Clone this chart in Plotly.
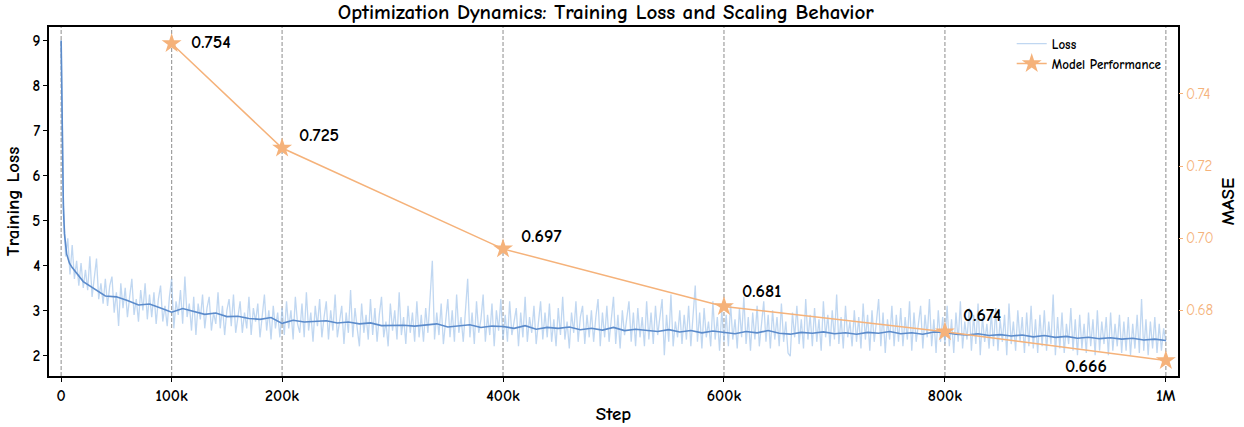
import plotly.graph_objects as go

# ---------------- data ----------------
raw_steps_early = [0, 1000]
raw_loss_early = [9.0, 7.0]
raw_loss = [
    5.50, 4.20, 4.60, 3.80, 4.45, 3.70, 4.10, 3.55, 4.05, 3.50, 3.90, 3.45, 4.20, 3.30, 3.75, 4.15, 3.25, 3.60, 3.15, 3.70,
    3.10, 3.55, 3.75, 2.95, 3.40, 2.65, 3.60, 3.05, 3.50, 2.85, 3.30, 3.70, 2.90, 3.25, 2.75, 3.45, 3.00, 3.60, 2.80, 3.35,
    2.85, 3.40, 2.70, 3.25, 3.55, 2.75, 3.10, 2.65, 3.30, 3.70, 2.60, 3.20, 2.90, 3.45, 2.70, 3.75, 2.85, 3.15, 2.55, 3.30,
    2.45, 3.15, 2.80, 3.35, 2.60, 3.05, 3.30, 2.55, 2.95, 2.70, 3.40, 2.60, 3.10, 2.45, 3.00, 3.25, 2.65, 3.35, 2.50, 2.90,
    3.20, 2.50, 2.95, 2.60, 3.30, 2.45, 3.05, 2.75, 3.15, 2.40, 2.90, 3.35, 2.55, 3.00, 2.35, 3.10, 2.60, 2.95, 2.40, 3.05,
    2.45, 3.20, 2.60, 3.00, 2.35, 3.30, 2.70, 2.50, 3.15, 2.40, 3.40, 2.55, 2.95, 2.30, 3.10, 2.65, 3.25, 2.40, 2.85, 3.20,
    2.35, 3.00, 2.55, 3.35, 2.40, 2.80, 3.10, 2.25, 2.95, 2.50, 3.45, 2.40, 3.05, 2.60, 2.20, 3.15, 2.50, 2.90, 2.35, 3.25,
    2.45, 3.05, 2.30, 2.90, 3.30, 2.40, 2.75, 2.20, 3.15, 2.55, 3.00, 2.35, 3.40, 2.45, 2.85, 2.25, 3.10, 2.50, 2.95, 2.30,
    3.20, 2.40, 2.90, 2.30, 3.05, 2.50, 3.30, 4.10, 2.35, 2.95, 2.45, 3.15, 2.25, 2.85, 3.25, 2.40, 3.00, 2.30, 3.35, 2.50,
    2.85, 2.30, 3.10, 3.70, 2.40, 2.95, 2.25, 3.20, 2.50, 2.80, 3.35, 2.30, 2.90, 2.45, 3.15, 2.20, 3.00, 2.55, 3.25, 2.35,
    2.90, 2.30, 3.20, 2.45, 2.75, 3.05, 2.20, 2.95, 2.40, 3.30, 2.30, 2.85, 2.50, 3.10, 2.25, 2.80, 3.20, 2.35, 2.95, 2.40,
    3.15, 2.30, 2.80, 2.20, 3.05, 2.45, 3.30, 2.35, 2.75, 2.15, 2.95, 2.50, 3.20, 2.30, 2.85, 3.10, 2.25, 2.90, 2.40, 3.00,
    2.30, 2.85, 3.25, 2.20, 2.95, 2.40, 3.10, 2.30, 2.75, 3.30, 2.25, 2.90, 2.15, 3.00, 2.45, 2.80, 3.20, 2.30, 2.95, 2.20,
    3.05, 2.40, 2.85, 2.20, 3.20, 2.35, 2.95, 2.25, 3.10, 2.45, 2.80, 3.25, 2.00, 2.90, 2.30, 3.35, 2.20, 2.75, 2.40, 3.00,
    2.25, 2.90, 2.35, 3.10, 2.20, 2.80, 3.55, 2.30, 2.95, 2.15, 3.05, 2.40, 2.75, 2.20, 3.20, 2.35, 2.85, 2.10, 3.00, 2.30,
    2.90, 2.20, 3.15, 2.35, 2.80, 2.15, 3.05, 2.40, 3.30, 2.25, 2.85, 2.10, 2.95, 2.35, 3.10, 2.20, 2.75, 3.20, 2.30, 2.90,
    2.15, 3.00, 2.35, 2.85, 2.20, 3.15, 2.30, 2.75, 2.05, 1.98, 2.95, 2.40, 3.10, 2.25, 2.80, 2.15, 3.25, 2.35, 2.90, 2.20,
    3.05, 2.30, 2.80, 2.10, 3.20, 2.40, 2.90, 2.20, 3.00, 2.35, 3.35, 2.25, 2.85, 2.15, 3.10, 2.40, 2.75, 2.20, 3.00, 2.30,
    2.85, 2.15, 3.15, 2.35, 2.90, 2.10, 3.00, 2.30, 2.75, 3.25, 2.20, 2.95, 2.05, 2.80, 2.35, 3.10, 2.20, 2.90, 2.30, 3.05,
    2.20, 2.85, 2.35, 3.20, 2.10, 2.95, 2.30, 2.75, 3.10, 2.15, 2.90, 2.40, 3.25, 2.20, 2.80, 2.05, 3.00, 2.30, 2.85, 2.25,
    3.10, 2.20, 2.80, 2.05, 2.95, 2.30, 3.20, 2.15, 2.75, 2.35, 3.05, 2.10, 2.90, 2.25, 3.15, 2.00, 2.85, 2.30, 2.70, 2.15,
    2.95, 2.20, 3.05, 2.10, 2.80, 2.30, 2.90, 2.00, 3.15, 2.25, 2.75, 2.10, 3.00, 2.30, 2.85, 2.05, 2.95, 2.20, 3.10, 2.15,
    2.80, 2.05, 2.90, 2.20, 3.00, 2.10, 2.75, 2.25, 3.35, 2.00, 2.85, 2.15, 2.95, 2.05, 2.70, 2.25, 3.05, 2.10, 2.80, 2.00,
    2.90, 2.15, 2.70, 2.05, 2.95, 2.20, 2.80, 2.00, 3.00, 2.10, 2.75, 2.25, 2.85, 2.00, 2.95, 2.10, 2.70, 2.20, 2.90, 2.05,
    2.75, 2.10, 2.85, 2.00, 2.70, 2.15, 2.90, 2.05, 3.25, 2.10, 2.80, 2.00, 2.75, 2.15, 2.85, 2.05, 2.70, 2.10, 2.60, 2.30,
]
raw_steps = raw_steps_early + [2000 * (i + 1) for i in range(len(raw_loss))]
raw_all = raw_loss_early + raw_loss

smooth_steps_early = [0, 1000, 2000, 3000, 5000, 7500]
smooth_loss_early = [9.0, 6.8, 5.3, 4.7, 4.25, 4.05]
smooth_loss = [
    3.95, 3.64, 3.47, 3.32, 3.30, 3.22, 3.12, 3.14, 3.05, 2.96,
    3.04, 2.98, 2.91, 2.94, 2.86, 2.87, 2.82, 2.80, 2.84, 2.71,
    2.78, 2.74, 2.76, 2.77, 2.72, 2.74, 2.70, 2.72, 2.66, 2.66,
    2.67, 2.65, 2.68, 2.70, 2.63, 2.66, 2.68, 2.62, 2.65, 2.64,
    2.60, 2.66, 2.58, 2.62, 2.60, 2.63, 2.57, 2.60, 2.56, 2.62,
    2.55, 2.58, 2.56, 2.53, 2.57, 2.52, 2.55, 2.50, 2.54, 2.51,
    2.48, 2.53, 2.50, 2.55, 2.49, 2.47, 2.51, 2.49, 2.52, 2.48,
    2.50, 2.47, 2.51, 2.49, 2.53, 2.48, 2.50, 2.47, 2.52, 2.51,
    2.47, 2.45, 2.48, 2.44, 2.46, 2.43, 2.45, 2.41, 2.44, 2.40,
    2.42, 2.38, 2.40, 2.37, 2.39, 2.36, 2.38, 2.34, 2.36, 2.33,
]
smooth_steps = smooth_steps_early + [10000 * (i + 1) for i in range(len(smooth_loss))]
smooth_all = smooth_loss_early + smooth_loss

perf_steps = [100000, 200000, 400000, 600000, 800000, 1000000]
perf_mase = [0.754, 0.725, 0.697, 0.681, 0.674, 0.666]
perf_labels = ["0.754", "0.725", "0.697", "0.681", "0.674", "0.666"]
label_shift_x = [17, 15, 16, 16, 16, -57]
label_shift_y = [1, 13, 12, 15, 16, -6]

xtick_vals = [0, 100000, 200000, 400000, 600000, 800000, 1000000]
xtick_text = ["0", "100k", "200k", "400k", "600k", "800k", "1M"]
ytick_vals = [2, 3, 4, 5, 6, 7, 8, 9]
y2tick_vals = [0.68, 0.70, 0.72, 0.74]

# ---------------- styles ----------------
FONT = "Comic Sans MS, Comic Neue, Lato, DejaVu Sans, sans-serif"
ORANGE = "#F5B27A"
BLUE = "#5B8BCB"
LIGHT = "rgba(150,188,232,0.6)"

fig = go.Figure()

fig.add_trace(go.Scatter(
    x=raw_steps, y=raw_all, mode="lines", name="Loss",
    line=dict(color=LIGHT, width=1.3), yaxis="y", showlegend=True,
))
fig.add_trace(go.Scatter(
    x=smooth_steps, y=smooth_all, mode="lines", name="Loss (smoothed)",
    line=dict(color=BLUE, width=1.6), yaxis="y", showlegend=False,
))
fig.add_trace(go.Scatter(
    x=perf_steps, y=perf_mase, mode="lines+markers", name="Model Performance",
    line=dict(color=ORANGE, width=1.5),
    marker=dict(symbol="star", size=15, color=ORANGE, line=dict(width=0)),
    yaxis="y2",
))

for xv in xtick_vals:
    fig.add_vline(x=xv, line=dict(color="#a0a0a0", width=1.2, dash="4px,2px"), layer="below")

for i in range(len(perf_steps)):
    xa = "left" if label_shift_x[i] > 0 else "right"
    fig.add_annotation(
        x=perf_steps[i], y=perf_mase[i], xref="x", yref="y2",
        text=perf_labels[i], showarrow=False, xanchor=xa, yanchor="middle",
        xshift=label_shift_x[i], yshift=label_shift_y[i],
        font=dict(family=FONT, size=18, color="black", weight="bold"),
    )

fig.update_layout(
    width=1244, height=427,
    margin=dict(l=49, r=66, t=27, b=51, autoexpand=False),
    plot_bgcolor="white", paper_bgcolor="white",
    font=dict(family=FONT, color="black"),
    title=dict(
        text="Optimization Dynamics: Training Loss and Scaling Behavior",
        x=0.4932, xref="paper", xanchor="center", y=0.972, yanchor="middle",
        font=dict(family=FONT, size=21, color="black", weight="bold"),
        automargin=False,
    ),
    xaxis=dict(
        range=[-11000, 1011000], tickvals=xtick_vals, ticktext=xtick_text,
        showgrid=False, zeroline=False, showline=True, linecolor="black", linewidth=1.5,
        mirror=True, ticks="outside", ticklen=4, tickcolor="black", automargin=False,
        tickfont=dict(family=FONT, size=16, color="black", weight="bold"),
        title=dict(text="Step", standoff=3,
                   font=dict(family=FONT, size=19, color="black", weight="bold")),
    ),
    yaxis=dict(
        range=[1.54, 9.3], tickvals=ytick_vals,
        showgrid=False, zeroline=False, showline=True, linecolor="black", linewidth=1.5,
        mirror=True, ticks="outside", ticklen=4, tickcolor="black", automargin=False,
        tickfont=dict(family=FONT, size=15, color="black", weight="bold"),
        title=dict(text="Training Loss", standoff=8,
                   font=dict(family=FONT, size=19, color="black", weight="bold")),
    ),
    yaxis2=dict(
        range=[0.6617, 0.7586], tickvals=y2tick_vals, tickformat=".2f",
        overlaying="y", side="right", anchor="x",
        showgrid=False, zeroline=False, showline=False, automargin=False,
        ticks="outside", ticklen=4, tickcolor=ORANGE,
        tickfont=dict(family=FONT, size=15, color=ORANGE),
        title=dict(text="MASE", standoff=8,
                   font=dict(family=FONT, size=19, color="black", weight="bold")),
    ),
    legend=dict(
        x=0.99, y=0.995, xanchor="right", yanchor="top",
        bgcolor="rgba(255,255,255,0)", borderwidth=0,
        font=dict(family=FONT, size=13, color="black", weight="bold"),
        itemwidth=30, tracegroupgap=2,
    ),
    showlegend=True,
)

fig.write_html("out.html")
